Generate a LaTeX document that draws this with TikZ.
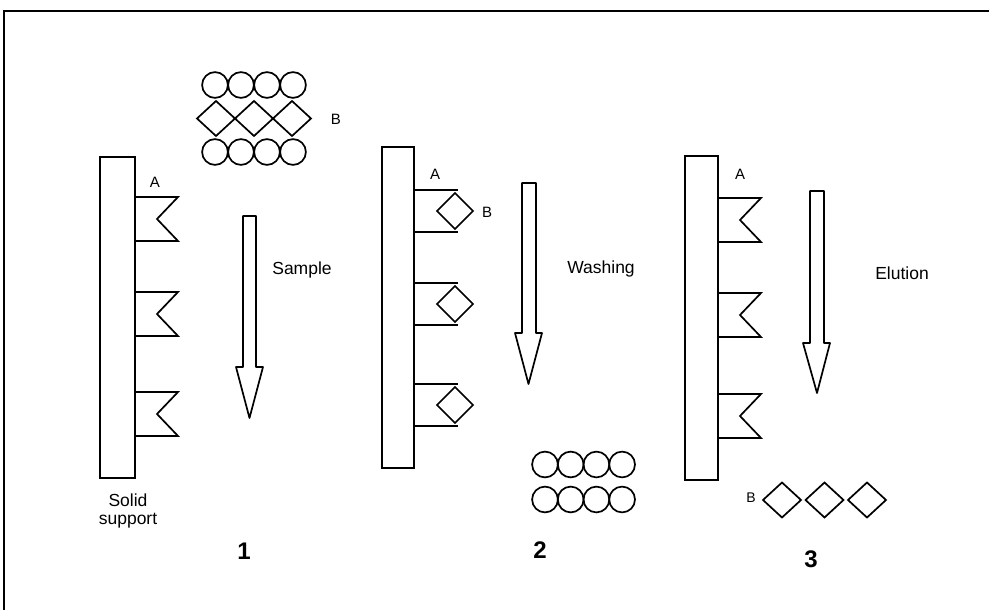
\documentclass[tikz,border=0pt]{standalone}
\usepackage{fontspec}
\setmainfont{Liberation Sans}
\begin{document}
\begin{tikzpicture}[x=1pt,y=-1pt,
  shp/.style={line width=1.7pt, line join=miter},
  lbl/.style={inner sep=0pt, font=\fontsize{15}{15}\selectfont},
  txt/.style={inner sep=0pt, font=\fontsize{17.5}{17.5}\selectfont},
  num/.style={inner sep=0pt, font=\fontsize{24}{24}\selectfont\bfseries},
  flagA/.pic={\draw[shp] (0,0) -- (43,0) -- (22,22) -- (43,44) -- (0,44);},
  flagB/.pic={\draw[shp] (0,0) -- (44,0) (0,42) -- (44,42);
              \draw[shp] (23,21) -- (41,3) -- (59,21) -- (41,39) -- cycle;},
  diam/.pic={\draw[shp] (-19,0) -- (0,-17.5) -- (19,0) -- (0,17.5) -- cycle;},
  ring/.pic={\draw[shp] (0,0) circle[radius=12.9];},
]
\useasboundingbox (0,0) rectangle (989,610);
% frame
\draw[line width=2pt] (4,610) -- (4,11) -- (989,11);

% ---------- panel 1 ----------
\draw[shp] (100,157) rectangle (135,478);
\foreach \y in {197,292,392} \pic at (135,\y) {flagA};
\node[lbl] (a1) at (155,182) {A};
\foreach \x in {0,1,2,3} {
  \pic at (215+26*\x,85) {ring};
  \pic at (215+26*\x,152) {ring};
}
\foreach \x in {0,1,2} \pic at (216+38*\x,118.5) {diam};
\node[lbl] (b1) at (336,119) {B};
\draw[shp, line join=round] (243,216) -- (256,216) -- (256,367) -- (263,367) -- (249.5,418) -- (236,367) -- (243,367) -- cycle;
\node[txt] (s1) at (302,270) {Sample};
\node[txt, align=center] (ss) at (128,511) {Solid\\[1pt]support};
\node[num] (n1) at (244,551) {1};

% ---------- panel 2 ----------
\draw[shp] (382,147) rectangle (414,468);
\foreach \y in {190,283,384} \pic at (414,\y) {flagB};
\node[lbl] (a2) at (435,174) {A};
\node[lbl] (b2) at (487,212) {B};
\draw[shp, line join=round] (522,183) -- (536,183) -- (536,333) -- (542,333) -- (528.5,384) -- (515,333) -- (522,333) -- cycle;
\node[txt] (s2) at (601,269) {Washing};
\foreach \x in {0,1,2,3} {
  \pic at (545+25.7*\x,464.5) {ring};
  \pic at (545+25.7*\x,499.5) {ring};
}
\node[num] (n2) at (540,550) {2};

% ---------- panel 3 ----------
\draw[shp] (685,156) rectangle (718,480);
\foreach \y in {198,293,394} \pic at (718,\y) {flagA};
\node[lbl] (a3) at (740,174) {A};
\draw[shp, line join=round] (810,191) -- (824,191) -- (824,343) -- (830,343) -- (817,393) -- (803,343) -- (810,343) -- cycle;
\node[txt] (s3) at (902,273) {Elution};
\foreach \x in {0,1,2} \pic at (782+42.5*\x,500) {diam};
\node[lbl, font=\fontsize{14}{14}\selectfont] (b3) at (751,498) {B};
\node[num] (n3) at (811,559) {3};
\end{tikzpicture}
\end{document}
